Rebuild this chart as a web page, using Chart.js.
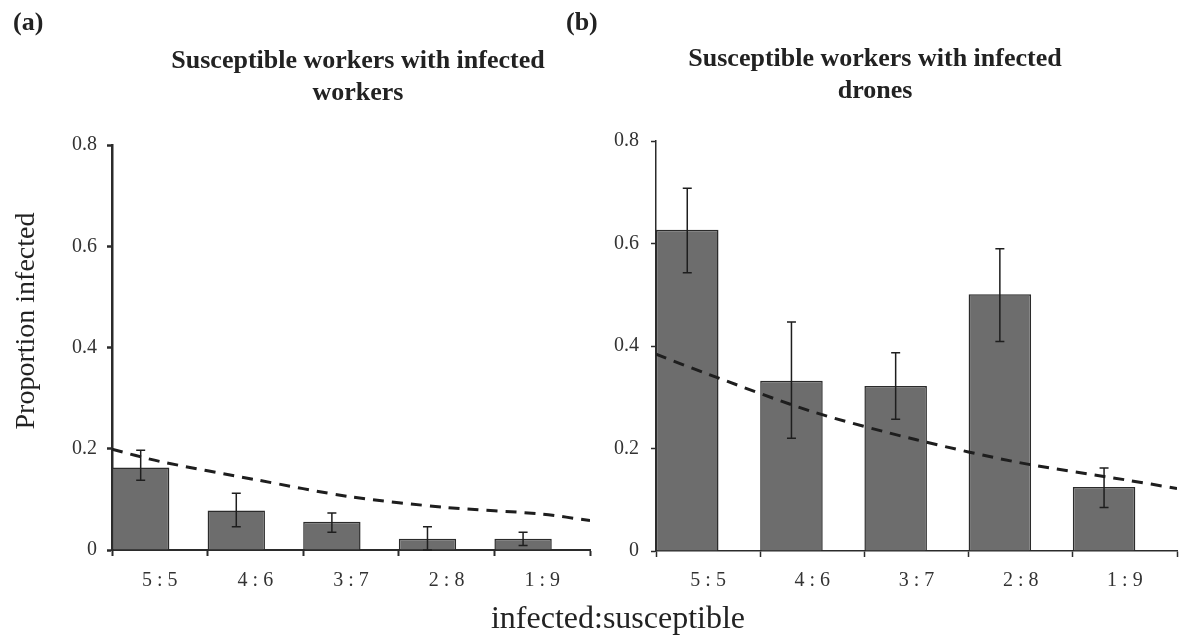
<!DOCTYPE html>
<html>
<head>
<meta charset="utf-8">
<script src="https://cdn.jsdelivr.net/npm/chart.js@4.4.1/dist/chart.umd.min.js"></script>
<style>
  html, body { margin: 0; padding: 0; background: #fff; }
  body { width: 1182px; height: 637px; position: relative; overflow: hidden; font-family: "Liberation Serif", "Times New Roman", serif; color: #222; }
  .box { position: absolute; top: 0; height: 637px; }
  .txt { position: absolute; white-space: nowrap; }
  .panel { font-weight: bold; font-size: 26px; line-height: 30px; top: 7px; }
  .title { font-weight: bold; font-size: 26px; line-height: 32px; text-align: center; width: 460px; }
</style>
</head>
<body>
<div class="box" id="boxA" style="left:0;width:600px;"><canvas id="chartA"></canvas></div>
<div class="box" id="boxB" style="left:600px;width:582px;"><canvas id="chartB"></canvas></div>

<div class="txt panel" style="left:13px;">(a)</div>
<div class="txt panel" style="left:566px;">(b)</div>
<div class="txt title" style="left:128px;top:44px;">Susceptible workers with infected<br>workers</div>
<div class="txt title" style="left:645px;top:42px;">Susceptible workers with infected<br>drones</div>
<div class="txt" style="left:25px;top:321px;font-size:28px;line-height:32px;transform:translate(-50%,-50%) rotate(-90deg);">Proportion infected</div>
<div class="txt" style="left:618px;top:597px;font-size:32px;line-height:40px;transform:translateX(-50%);">infected:susceptible</div>

<script>
// ---- data ----
const categories = ['5 : 5', '4 : 6', '3 : 7', '2 : 8', '1 : 9'];
const yTicks = [0, 0.2, 0.4, 0.6, 0.8];

// (a) susceptible workers with infected workers
const barsA    = [0.163, 0.078, 0.056, 0.022, 0.022];
const errHighA = [0.197, 0.112, 0.073, 0.046, 0.035];
const errLowA  = [0.138, 0.046, 0.035, 0.000, 0.009];
const lineXA   = [0, 0.5, 1.5, 2.5, 3.5, 4.5, 5];
const lineA    = [0.199, 0.175, 0.139, 0.105, 0.084, 0.071, 0.058];

// (b) susceptible workers with infected drones
const barsB    = [0.627, 0.332, 0.322, 0.501, 0.125];
const errHighB = [0.708, 0.447, 0.387, 0.590, 0.162];
const errLowB  = [0.543, 0.220, 0.257, 0.409, 0.085];
const lineXB   = [0, 0.5, 1.5, 2.5, 3.5, 4.5, 5];
const lineB    = [0.384, 0.345, 0.272, 0.217, 0.172, 0.139, 0.122];

// ---- error bar plugin ----
const errorBars = {
  id: 'errorBars',
  afterDatasetsDraw(chart, args, opts) {
    const meta = chart.getDatasetMeta(0);
    const ys = chart.scales.y;
    const ctx = chart.ctx;
    ctx.save();
    ctx.strokeStyle = opts.color;
    ctx.lineWidth = opts.width;
    meta.data.forEach((el, i) => {
      const x = el.x;
      const yTop = ys.getPixelForValue(opts.high[i]);
      const yBot = ys.getPixelForValue(opts.low[i]);
      ctx.beginPath();
      ctx.moveTo(x, yTop); ctx.lineTo(x, yBot);
      ctx.moveTo(x - opts.cap, yTop); ctx.lineTo(x + opts.cap, yTop);
      ctx.moveTo(x - opts.cap, yBot); ctx.lineTo(x + opts.cap, yBot);
      ctx.stroke();
    });
    ctx.restore();
  }
};

function makeChart(id, bars, errLow, errHigh, lineX, lineVals, cfg) {
  const barData = categories.map((c, i) => ({ x: i, y: bars[i] }));
  const lineData = lineX.map((x, i) => ({ x: x, y: lineVals[i] }));
  return new Chart(document.getElementById(id), {
    type: 'bar',
    data: {
      labels: categories,
      datasets: [
        {
          type: 'bar',
          data: barData,
          xAxisID: 'xb',
          grouped: false,
          backgroundColor: '#6d6d6d',
          borderColor: '#2b2b2b',
          borderWidth: 1.5,
          categoryPercentage: 1,
          barPercentage: 0.6,
          order: 2
        },
        {
          type: 'line',
          data: lineData,
          xAxisID: 'xl',
          borderColor: '#1e1e1e',
          borderWidth: 3,
          borderDash: [11, 8],
          pointRadius: 0,
          fill: false,
          tension: 0.3,
          order: 1
        }
      ]
    },
    options: {
      responsive: true,
      maintainAspectRatio: false,
      animation: false,
      events: [],
      layout: { padding: { top: cfg.top, right: cfg.right, left: 0, bottom: 0 } },
      plugins: {
        legend: { display: false },
        tooltip: { enabled: false },
        title: { display: false },
        errorBars: { low: errLow, high: errHigh, color: '#1e1e1e', width: 1.5, cap: 4.5 }
      },
      scales: {
        x: {
          type: 'category',
          offset: true,
          grid: { offset: true, drawOnChartArea: false, drawTicks: true, tickLength: 6, tickColor: '#2b2b2b', tickWidth: cfg.xw },
          border: { display: true, color: '#2b2b2b', width: cfg.xw },
          ticks: { color: '#333', font: { family: 'Liberation Serif', size: 20 }, padding: cfg.xpad, maxRotation: 0 },
          afterFit: s => { s.height = cfg.xh; }
        },
        xb: {
          type: 'linear', display: false, offset: false, min: -0.3, max: 4.7,
          afterBuildTicks: s => { s.ticks = categories.map((c, i) => ({ value: i })); }
        },
        xl: {
          type: 'linear', display: false, offset: false, min: 0, max: 5
        },
        y: {
          min: 0, max: 0.8,
          afterBuildTicks: s => { s.ticks = yTicks.map(v => ({ value: v })); },
          grid: { drawOnChartArea: false, drawTicks: true, tickLength: 5, tickColor: '#2b2b2b', tickWidth: cfg.yw },
          border: { display: true, color: '#2b2b2b', width: cfg.yw },
          ticks: {
            color: '#333', font: { family: 'Liberation Serif', size: 20 }, padding: cfg.ypad,
            callback: v => (v === 0 ? '0' : v.toFixed(1))
          },
          afterFit: s => { s.width = cfg.yw0; }
        }
      }
    },
    plugins: [errorBars]
  });
}

makeChart('chartA', barsA, errLowA, errHighA, lineXA, lineA,
  { top: 145, right: 10, xh: 87, xw: 2, yw: 2.5, yw0: 112, ypad: 10, xpad: 13 });
makeChart('chartB', barsB, errLowB, errHighB, lineXB, lineB,
  { top: 141, right: 5, xh: 86, xw: 1.5, yw: 1.5, yw0: 56, ypad: 12, xpad: 12 });
</script>
</body>
</html>
